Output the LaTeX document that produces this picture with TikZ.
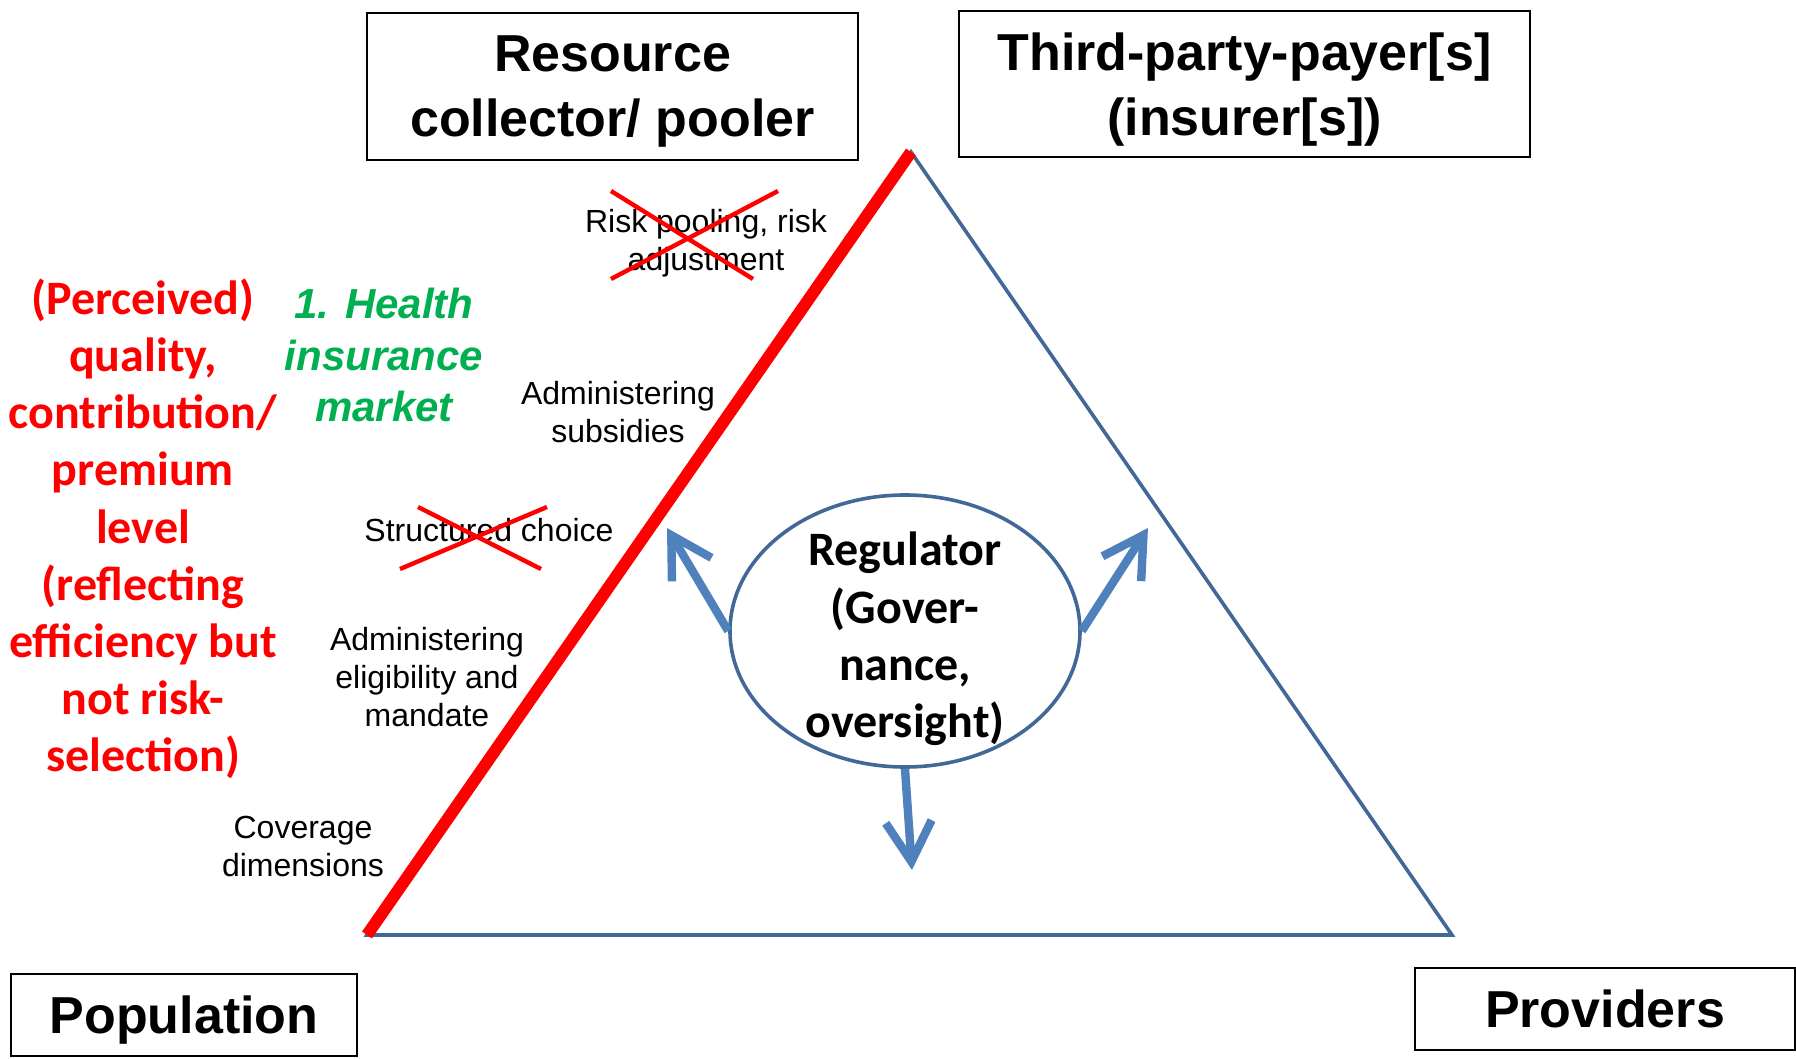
\documentclass[tikz,border=0pt]{standalone}
\usepackage{fontspec}
\setmainfont{Liberation Sans}
\newfontfamily\calibri{Carlito}
\usetikzlibrary{arrows.meta,shapes.geometric}

\begin{document}
\begin{tikzpicture}[x=0.5pt,y=-0.5pt]
  % Key Colors
  \definecolor{edgecolor}  {RGB}{65,104,150}
  \definecolor{arrowcolor} {RGB}{79,129,189}
  \definecolor{marketcolor}{RGB}{0,176,80}

  % Styles
  \tikzstyle{actor box}=[draw=black,line width=1.2pt,align=center,inner sep=0pt,text depth=0pt,
                          font=\bfseries\fontsize{26}{32.5}\selectfont]
  \tikzstyle{task text}=[align=center,font=\fontsize{16}{19}\selectfont]
  \tikzstyle{strike}=[red,line width=2.2pt]
  \tikzstyle{rule arrow}=[arrowcolor,line width=4.2pt,-{Straight Barb[length=20pt,width=23pt]}]
  \tikzstyle{red text}=[align=center,red,font=\calibri\bfseries\fontsize{24}{28.6}\selectfont]

  \useasboundingbox (0,0) rectangle (1796,1059);

  % Key Points
  \coordinate (pop)  at (367,935);
  \coordinate (top)  at (911,152);
  \coordinate (prov) at (1452,935);

  % The actors
  \node[actor box,minimum width=245.5pt,minimum height=73.5pt] (pooler)     at (612.5,86.5) {Resource\\collector/ pooler};
  \node[actor box,minimum width=285.5pt,minimum height=73pt]   (payer)      at (1244.5,84)  {Third-party-payer[s]\\(insurer[s])};
  \node[actor box,minimum width=173pt,minimum height=41pt]     (population) at (184,1015)   {Population};
  \node[actor box,minimum width=190pt,minimum height=41pt]     (providers)  at (1605,1009)  {Providers};

  % The triangle
  \draw[edgecolor,line width=1.8pt] (pop) -- (top) -- (prov) -- cycle;
  \draw[red,line width=6pt] (pop) -- (top);

  % Regulator
  \node[ellipse,draw=edgecolor,line width=1.8pt,minimum width=175pt,minimum height=136pt] (regulator) at (905,631) {};
  \node[red text,black] (regtext) at (905,639) {Regulator\\(Gover-\\nance,\\oversight)};

  \coordinate (tipL) at (667,528);
  \coordinate (tipR) at (1148,528);
  \coordinate (tipB) at (912,870);
  \draw[rule arrow] (regulator.west)  -- (tipL);
  \draw[rule arrow] (regulator.east)  -- (tipR);
  \draw[rule arrow] (regulator.south) -- (tipB);

  % Functions along the edge
  \node[task text] (pooling)     at (706,243) {Risk pooling, risk\\adjustment};
  \node[task text] (subsidies)   at (618,412) {Administering\\subsidies};
  \node[task text] (choice)      at (489,530) {Structured choice};
  \node[task text] (eligibility) at (427,677) {Administering\\eligibility and\\mandate};
  \node[task text] (coverage)    at (303,846) {Coverage\\dimensions};

  % Crossed out
  \draw[strike] (611,191) -- (753,279);
  \draw[strike] (778,191) -- (611,279);
  \draw[strike] (418,507) -- (541,569);
  \draw[strike] (547,507) -- (400,569);

  % Market
  \node[align=center,marketcolor,font=\bfseries\itshape\fontsize{21}{25.8}\selectfont] (market) at (384,355)
    {1. Health\\insurance\\market};
  \node[red text] (criteria) at (143,529)
    {(Perceived)\\quality,\\contribution/\\premium\\level\\(reflecting\\efficiency but\\not risk-\\selection)};

\end{tikzpicture}
\end{document}
